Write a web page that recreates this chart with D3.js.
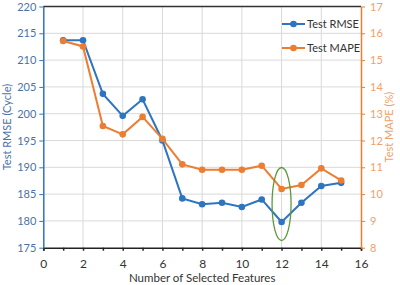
<!DOCTYPE html>
<html>
<head>
  <meta charset='utf-8'>
  <script src="https://cdn.jsdelivr.net/npm/d3@7"></script>
  <style>
    body { margin: 0; background: #fff; }
    text { font-family: Lato, "Open Sans", sans-serif; }
  </style>
</head>
<body>
<script>
  // data
  let features = [1, 2, 3, 4, 5, 6, 7, 8, 9, 10, 11, 12, 13, 14, 15]
  let rmse = [213.7, 213.7, 203.7, 199.6, 202.7, 195.0, 184.2, 183.1, 183.4, 182.6, 184.0, 179.8, 183.4, 186.5, 187.1]
  let mape = [15.71, 15.51, 12.54, 12.23, 12.88, 12.06, 11.11, 10.91, 10.91, 10.91, 11.06, 10.19, 10.34, 10.96, 10.51]
  let xTicks = [0, 2, 4, 6, 8, 10, 12, 14, 16]
  let leftTicks = [175, 180, 185, 190, 195, 200, 205, 210, 215, 220]
  let rightTicks = [8, 9, 10, 11, 12, 13, 14, 15, 16, 17]
  let seriesNames = ["Test RMSE", "Test MAPE"]

  let w = 400, h = 285
  let mLeft = 43.3, mRight = 361, mTop = 6.5, mBottom = 247.7
  let blue = "#2e74c0", orange = "#ed7d31"

  let svg = d3.select("body").append("svg").attr("width", w).attr("height", h)

  let x = d3.scaleLinear().domain([0, 16]).range([mLeft, mRight])
  let yL = d3.scaleLinear().domain([175, 220]).range([mBottom, mTop])
  let yR = d3.scaleLinear().domain([8, 17]).range([mBottom, mTop])

  // gridlines
  svg.append("g").selectAll("line").data(xTicks.slice(1, -1)).enter().append("line")
    .attr("x1", d => x(d)).attr("x2", d => x(d)).attr("y1", mTop).attr("y2", mBottom)
    .attr("stroke", "#d9d9d9").attr("stroke-width", 1)
  svg.append("g").selectAll("line").data(leftTicks.slice(1, -1)).enter().append("line")
    .attr("x1", mLeft).attr("x2", mRight).attr("y1", d => yL(d)).attr("y2", d => yL(d))
    .attr("stroke", "#d9d9d9").attr("stroke-width", 1)

  // top border
  svg.append("line").attr("x1", mLeft).attr("x2", mRight).attr("y1", mTop).attr("y2", mTop)
    .attr("stroke", "#333").attr("stroke-width", 1.5)

  // bottom axis
  let xAxis = svg.append("g").attr("transform", `translate(0,${mBottom})`)
    .call(d3.axisBottom(x).tickValues(d3.range(0, 17, 1)).tickSize(3).tickFormat(d => d % 2 == 0 ? d : ""))
  xAxis.select(".domain").attr("stroke", "#222").attr("stroke-width", 1.5)
  xAxis.selectAll(".tick line").attr("stroke", "#222").attr("stroke-width", 1.5)
  xAxis.selectAll("text").attr("font-size", 12).attr("fill", "#333").attr("dy", "1.2em")

  // left axis
  let yAxisL = svg.append("g").attr("transform", `translate(${mLeft},0)`)
    .call(d3.axisLeft(yL).tickValues(leftTicks).tickSize(4).tickSizeOuter(0))
  yAxisL.select(".domain").attr("stroke", blue).attr("stroke-width", 1.5)
  yAxisL.selectAll(".tick line").attr("stroke", blue)
  yAxisL.selectAll("text").attr("font-size", 11).attr("fill", "#4b72a8").attr("x", -7)

  // right axis
  let yAxisR = svg.append("g").attr("transform", `translate(${mRight},0)`)
    .call(d3.axisRight(yR).tickValues(rightTicks).tickSize(4).tickSizeOuter(0))
  yAxisR.select(".domain").attr("stroke", orange).attr("stroke-width", 1.5)
  yAxisR.selectAll(".tick line").attr("stroke", orange)
  yAxisR.selectAll("text").attr("font-size", 11).attr("fill", "#f0a06c").attr("x", 9)

  // axis titles
  svg.append("text").attr("x", (mLeft + mRight) / 2).attr("y", 282).attr("text-anchor", "middle")
    .attr("font-size", 11.5).attr("fill", "#333").text("Number of Selected Features")
  svg.append("text").attr("transform", `translate(11,${(mTop + mBottom) / 2}) rotate(-90)`)
    .attr("text-anchor", "middle").attr("font-size", 11).attr("fill", "#4b72a8").text("Test RMSE (Cycle)")
  svg.append("text").attr("transform", `translate(393,${(mTop + mBottom) / 2}) rotate(-90)`)
    .attr("text-anchor", "middle").attr("font-size", 11).attr("fill", "#f0a06c").text("Test MAPE (%)")

  // series
  let lineL = d3.line().x((d, i) => x(features[i])).y(d => yL(d))
  let lineR = d3.line().x((d, i) => x(features[i])).y(d => yR(d))

  svg.append("path").datum(rmse).attr("d", lineL).attr("fill", "none").attr("stroke", blue).attr("stroke-width", 2)
  svg.append("g").selectAll("circle").data(rmse).enter().append("circle")
    .attr("cx", (d, i) => x(features[i])).attr("cy", d => yL(d)).attr("r", 3.3).attr("fill", blue)

  svg.append("path").datum(mape).attr("d", lineR).attr("fill", "none").attr("stroke", orange).attr("stroke-width", 2)
  svg.append("g").selectAll("circle").data(mape).enter().append("circle")
    .attr("cx", (d, i) => x(features[i])).attr("cy", d => yR(d)).attr("r", 3.3).attr("fill", orange)

  // highlight ellipse around 12 features
  svg.append("ellipse").attr("cx", x(12)).attr("cy", 204).attr("rx", 9.5).attr("ry", 36.5)
    .attr("fill", "none").attr("stroke", "#5a9a3c").attr("stroke-width", 1.3)

  // legend
  let legend = svg.append("g").selectAll("g").data(seriesNames).enter().append("g")
    .attr("transform", (d, i) => `translate(282,${24 + i * 24})`)
  legend.append("line").attr("x1", 0).attr("x2", 23).attr("stroke", (d, i) => i == 0 ? blue : orange).attr("stroke-width", 2)
  legend.append("circle").attr("cx", 11.5).attr("r", 3.3).attr("fill", (d, i) => i == 0 ? blue : orange)
  legend.append("text").attr("x", 25).attr("dy", "0.35em").attr("font-size", 11).attr("fill", "#333").text(d => d)
</script>
</body>
</html>
